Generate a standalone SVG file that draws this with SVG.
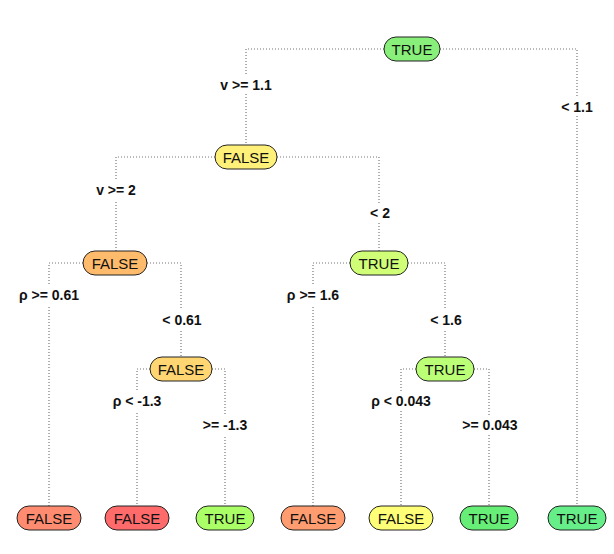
<svg xmlns="http://www.w3.org/2000/svg" width="614" height="554" viewBox="0 0 614 554">
<style>
.n rect{stroke:#222;stroke-width:1}
.n text{font-family:"Liberation Sans",Arial,sans-serif;font-size:15px;text-anchor:middle;fill:#111}
.e path{fill:none;stroke:#777;stroke-width:1.2;stroke-dasharray:1 2}
.l{font-family:"Liberation Sans",Arial,sans-serif;font-size:14px;font-weight:bold;text-anchor:middle;fill:#111}
.bg{fill:#fff}
</style>
<rect width="614" height="554" fill="#fff"/>
<g class="e">
<path d="M384,49H246V145"/><path d="M440,49H577V506"/>
<path d="M215,157H116V251"/><path d="M277,157H379V251"/>
<path d="M83,263H49V506"/><path d="M147,263H181V357"/>
<path d="M150,369H137V506"/><path d="M212,369H225V506"/>
<path d="M350,263H313V506"/><path d="M408,263H445V357"/>
<path d="M416,369H401V506"/><path d="M474,369H489V506"/>
</g>
<g id="labels">
<rect class="bg" x="214" y="74" width="64" height="20"/><text class="l" x="246" y="90">v &gt;= 1.1</text>
<rect class="bg" x="557" y="96" width="40" height="20"/><text class="l" x="577" y="112">&lt; 1.1</text>
<rect class="bg" x="90" y="180" width="52" height="20"/><text class="l" x="116" y="195">v &gt;= 2</text>
<rect class="bg" x="365" y="203" width="28" height="20"/><text class="l" x="380" y="218">&lt; 2</text>
<rect class="bg" x="14" y="285" width="70" height="20"/><text class="l" x="49" y="300">ρ &gt;= 0.61</text>
<rect class="bg" x="158" y="310" width="46" height="20"/><text class="l" x="182" y="325">&lt; 0.61</text>
<rect class="bg" x="108" y="391" width="58" height="20"/><text class="l" x="137" y="406">ρ &lt; -1.3</text>
<rect class="bg" x="196" y="415" width="58" height="20"/><text class="l" x="225" y="430">&gt;= -1.3</text>
<rect class="bg" x="282" y="285" width="62" height="20"/><text class="l" x="313" y="300">ρ &gt;= 1.6</text>
<rect class="bg" x="426" y="310" width="38" height="20"/><text class="l" x="446" y="325">&lt; 1.6</text>
<rect class="bg" x="364" y="391" width="74" height="20"/><text class="l" x="401" y="406">ρ &lt; 0.043</text>
<rect class="bg" x="456" y="415" width="66" height="20"/><text class="l" x="490" y="430">&gt;= 0.043</text>
</g>
<g id="n0" class="n"><rect x="384" y="37" width="56" height="24" rx="12" fill="#88f07a"/><text x="412" y="55">TRUE</text></g>
<g id="n1" class="n"><rect x="215" y="145" width="62" height="24" rx="12" fill="#fff07a"/><text x="246" y="163">FALSE</text></g>
<g id="n2" class="n"><rect x="83" y="251" width="64" height="24" rx="12" fill="#ffbb6c"/><text x="115" y="269">FALSE</text></g>
<g id="n3" class="n"><rect x="350" y="251" width="58" height="24" rx="12" fill="#d0ff77"/><text x="379" y="269">TRUE</text></g>
<g id="n4" class="n"><rect x="150" y="357" width="62" height="24" rx="12" fill="#ffd672"/><text x="181" y="375">FALSE</text></g>
<g id="n5" class="n"><rect x="416" y="357" width="58" height="24" rx="12" fill="#bbff77"/><text x="445" y="375">TRUE</text></g>
<g id="l1" class="n"><rect x="17" y="506" width="64" height="24" rx="12" fill="#ff8c70"/><text x="49" y="524">FALSE</text></g>
<g id="l2" class="n"><rect x="105" y="506" width="64" height="24" rx="12" fill="#ff6b6b"/><text x="137" y="524">FALSE</text></g>
<g id="l3" class="n"><rect x="196" y="506" width="58" height="24" rx="12" fill="#aaff66"/><text x="225" y="524">TRUE</text></g>
<g id="l4" class="n"><rect x="281" y="506" width="64" height="24" rx="12" fill="#ff9d70"/><text x="313" y="524">FALSE</text></g>
<g id="l5" class="n"><rect x="369" y="506" width="64" height="24" rx="12" fill="#ffff77"/><text x="401" y="524">FALSE</text></g>
<g id="l6" class="n"><rect x="460" y="506" width="58" height="24" rx="12" fill="#66ee77"/><text x="489" y="524">TRUE</text></g>
<g id="l7" class="n"><rect x="548" y="506" width="58" height="24" rx="12" fill="#66ee88"/><text x="577" y="524">TRUE</text></g>
</svg>
